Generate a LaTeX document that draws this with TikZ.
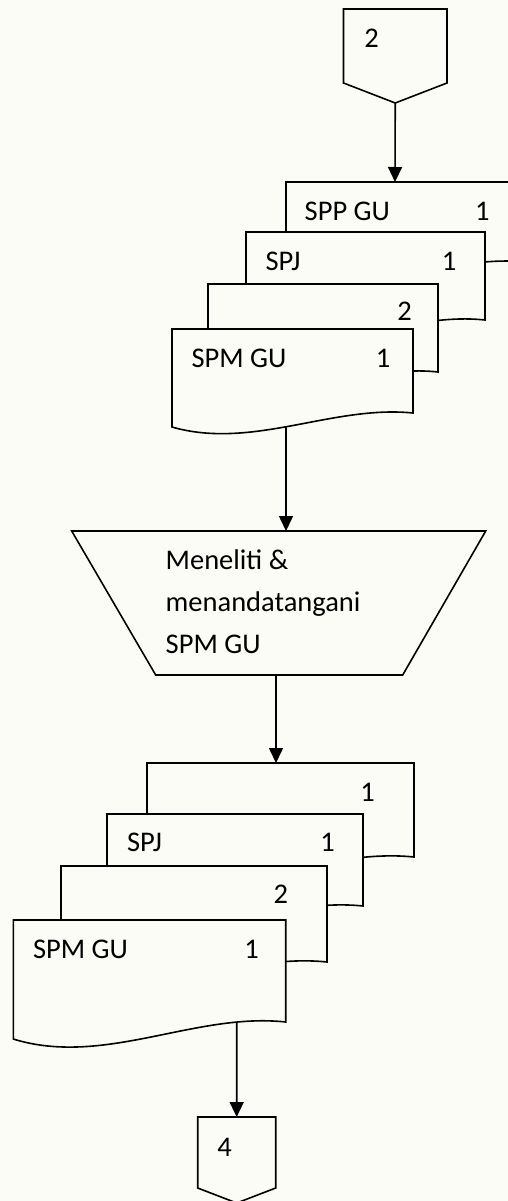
\documentclass[tikz,border=0pt]{standalone}
\usepackage{fontspec}
\setmainfont{Carlito}
\usetikzlibrary{arrows.meta}
\definecolor{paper}{RGB}{252,252,247}
\tikzset{
  shapeline/.style={draw=black, line width=1.6pt, fill=paper},
  flow/.style={draw=black, line width=1.6pt, -{Triangle[length=15pt,width=14pt]}},
  lbl/.style={inner sep=0pt, font=\fontsize{28.5}{41.7}\selectfont},
}
% document symbol: #1 name, #2 left, #3 top, #4 right, #5 bottom at the right edge,
% #6 x of the exit point on the wavy bottom (named #1-out)
\newcommand\docshape[6]{%
  \pgfmathsetmacro\docH{#5-#3}%
  \pgfmathsetmacro\docW{#4-#2}%
  \pgfmathsetmacro\docP{(#4-#6)/\docW}%
  \draw[shapeline] (#2,#3) coordinate (#1-nw) -- (#4,#3) coordinate (#1-ne) -- (#4,#5)
    .. controls ({#2+2*\docW/3},{#5-0.098*\docH}) and ({#2+\docW/3},{#5+0.442*\docH})
    .. ({#2},{#5+0.167*\docH}) -- cycle;
  \path (#4,#5)
    .. controls ({#2+2*\docW/3},{#5-0.098*\docH}) and ({#2+\docW/3},{#5+0.442*\docH})
    .. ({#2},{#5+0.167*\docH}) coordinate[pos=\docP] (#1-out);
}
\begin{document}
\begin{tikzpicture}[x=1pt,y=-1pt]
\fill[paper] (0,0) rectangle (508,1201);
\useasboundingbox (0,0) rectangle (508,1201);
\clip (0,0) rectangle (508,1201);

% off-page connector 2
\draw[shapeline] (343.5,9) -- (447,9) -- (447,83) -- (395.25,103) coordinate (c2-tip)
  -- (343.5,83) -- cycle;
\node[lbl, anchor=base] (c2-label) at (371.5,47.3) {2};

% first stack of documents
\docshape{spp}{286}{182}{527}{262}{527}
\docshape{spj}{246}{232}{485}{320}{485}
\docshape{cpy}{208}{284}{438}{372}{438}
\docshape{spm}{172}{329}{413}{413}{286}
\coordinate (spp-in) at (395,182);
\node[lbl, anchor=base west] (spp-t) at (304.5,220.5) {SPP GU};
\node[lbl, anchor=base] (spp-n) at (482.3,220.5) {1};
\node[lbl, anchor=base west] (spj-t) at (265.3,270) {SPJ};
\node[lbl, anchor=base] (spj-n) at (449,270) {1};
\node[lbl, anchor=base] (cpy-n) at (404.5,320.5) {2};
\node[lbl, anchor=base west] (spm-t) at (191.3,367.3) {SPM GU};
\node[lbl, anchor=base] (spm-n) at (383.2,367.3) {1};

\draw[flow] (c2-tip) -- (spp-in);

% manual operation
\draw[shapeline] (71.7,531) -- (485.7,531) -- (402.7,675) -- (155.7,675) -- cycle;
\coordinate (op-in) at (286,531);
\coordinate (op-out) at (276,675);
\node[lbl, anchor=base west, align=left] (op-t) at (165.5,653.3)
  {Meneliti \&\\menandatangani\\SPM GU};
\draw[flow] (spm-out) -- (op-in);

% second stack of documents
\docshape{top2}{147}{763}{414}{857}{414}
\docshape{spj2}{107}{814}{363}{906}{363}
\docshape{cpy2}{61}{866}{327}{962}{327}
\docshape{spm2}{13.3}{920}{285.7}{1022}{236.7}
\coordinate (top2-in) at (276,763);
\node[lbl, anchor=base] (top2-n) at (367.5,801.7) {1};
\node[lbl, anchor=base west] (spj2-t) at (126.8,851.7) {SPJ};
\node[lbl, anchor=base] (spj2-n) at (327.5,851.7) {1};
\node[lbl, anchor=base] (cpy2-n) at (280.8,903.3) {2};
\node[lbl, anchor=base west] (spm2-t) at (32.8,958.3) {SPM GU};
\node[lbl, anchor=base] (spm2-n) at (251.7,958.3) {1};

\draw[flow] (op-out) -- (top2-in);

% off-page connector 4
\draw[shapeline] (197.7,1117) coordinate (c4-nw) -- (275.7,1117) -- (275.7,1188)
  -- (236.7,1203) -- (197.7,1188) -- cycle;
\coordinate (c4-in) at (236.7,1117);
\node[lbl, anchor=base] (c4-label) at (224.7,1156) {4};
\draw[flow] (spm2-out) -- (c4-in);
\end{tikzpicture}
\end{document}
